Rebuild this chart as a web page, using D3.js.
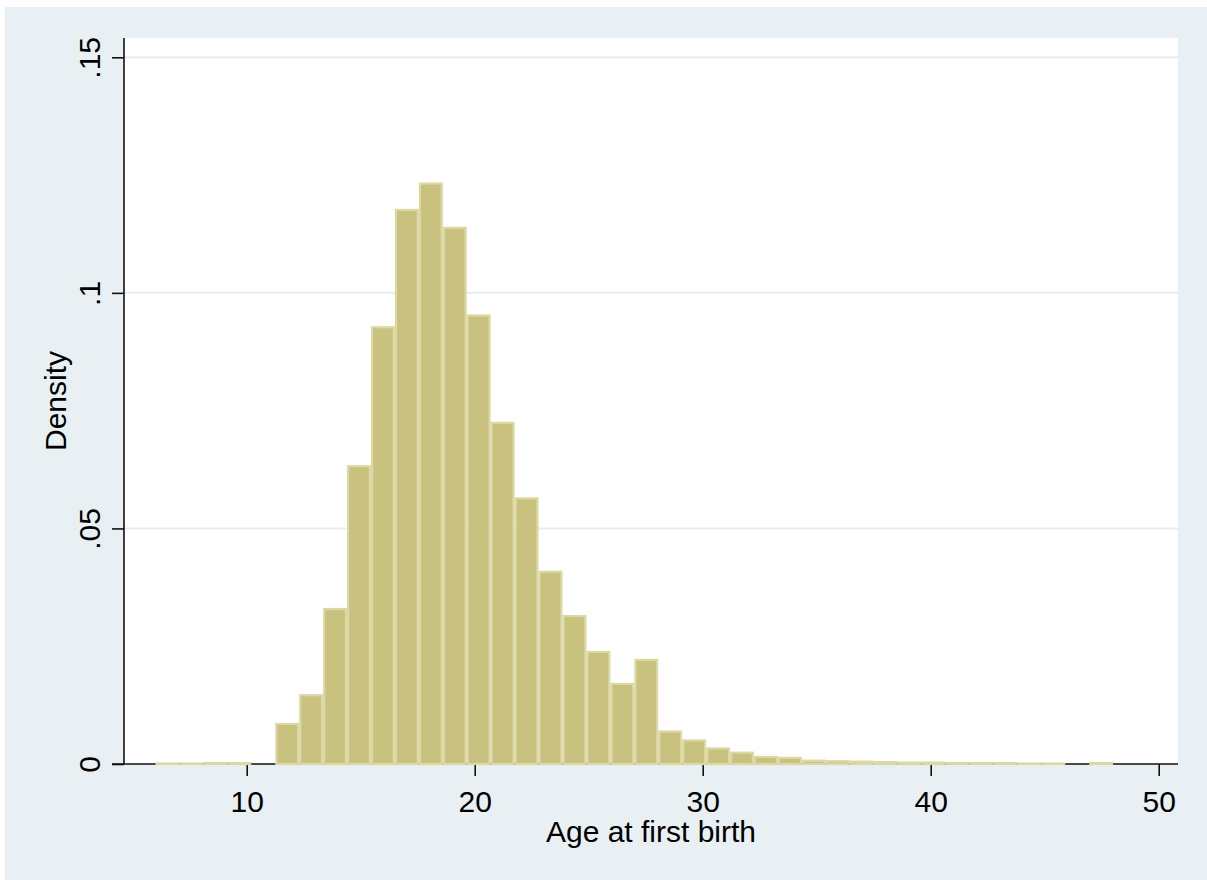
<!DOCTYPE html>
<html>
<head>
<meta charset="utf-8">
<script src="https://cdn.jsdelivr.net/npm/d3@7/dist/d3.min.js"></script>
<style>
  html, body { margin: 0; padding: 0; background: #ffffff; }
  svg { display: block; }
  text { font-family: "Liberation Sans", Arial, sans-serif; fill: #000; }
</style>
</head>
<body>
<svg id="chart" width="1207" height="880"></svg>
<script>
// ---- data ----
const binLower = [6.00, 7.05, 8.10, 9.15, 10.20, 11.25, 12.30, 13.35, 14.40, 15.45,
                  16.50, 17.55, 18.60, 19.65, 20.70, 21.75, 22.80, 23.85, 24.90, 25.95,
                  27.00, 28.05, 29.10, 30.15, 31.20, 32.25, 33.30, 34.35, 35.40, 36.45,
                  37.50, 38.55, 39.60, 40.65, 41.70, 42.75, 43.80, 44.85, 45.90, 46.95];
const binWidth = 1.05;
const density = [0.0001, 0.0001, 0.0002, 0.0002, 0, 0.0085, 0.0146, 0.0329, 0.0632, 0.0927,
                 0.1176, 0.1232, 0.1138, 0.0952, 0.0724, 0.0564, 0.0408, 0.0314, 0.0238, 0.0170,
                 0.0221, 0.0069, 0.0050, 0.0033, 0.0024, 0.0015, 0.0013, 0.0007, 0.0006, 0.0005,
                 0.0004, 0.0003, 0.0003, 0.0002, 0.0002, 0.0002, 0.0001, 0.0001, 0, 0.0002];
const xTicks = [10, 20, 30, 40, 50];
const xTickLabels = ["10", "20", "30", "40", "50"];
const yTicks = [0, 0.05, 0.1, 0.15];
const yTickLabels = ["0", ".05", ".1", ".15"];
const xTitle = "Age at first birth";
const yTitle = "Density";

// ---- layout ----
const W = 1207, H = 880;
const plot = { left: 124, right: 1178, top: 38, bottom: 764 };
const svg = d3.select("#chart");

// graph region
svg.append("rect").attr("x", 0).attr("y", 0).attr("width", W).attr("height", H).attr("fill", "#ffffff");
svg.append("rect").attr("x", 5).attr("y", 7).attr("width", W - 5).attr("height", H - 7).attr("fill", "#e8f0f3");
// plot region
svg.append("rect").attr("x", plot.left).attr("y", plot.top)
  .attr("width", plot.right - plot.left).attr("height", plot.bottom - plot.top).attr("fill", "#ffffff");

const x = d3.scaleLinear().domain([4.618, 50.846]).range([plot.left, plot.right]);
const y = d3.scaleLinear().domain([0, 0.15]).range([plot.bottom, 57.3]);

// grid lines
svg.append("g").selectAll("line").data(yTicks.filter(d => d > 0)).join("line")
  .attr("x1", plot.left).attr("x2", plot.right)
  .attr("y1", d => y(d)).attr("y2", d => y(d))
  .attr("stroke", "#e4edf1").attr("stroke-width", 2);

// axes
const xAxis = d3.axisBottom(x).tickValues(xTicks).tickSize(12).tickPadding(14)
  .tickFormat((d, i) => xTickLabels[i]);
const gx = svg.append("g").attr("transform", `translate(0,${plot.bottom})`).call(xAxis);
gx.select(".domain").remove();
gx.append("line").attr("x1", plot.left - 12).attr("x2", plot.right).attr("y1", 0).attr("y2", 0)
  .attr("stroke", "#111").attr("stroke-width", 1.6);
gx.selectAll(".tick line").attr("stroke", "#111").attr("stroke-width", 1.6);
gx.selectAll(".tick text").attr("font-size", 30).attr("fill", "#000")
  .attr("font-family", "'Liberation Sans', Arial, sans-serif")
  .attr("dy", null).attr("y", 48);

const yAxis = d3.axisLeft(y).tickValues(yTicks).tickSize(12)
  .tickFormat((d, i) => yTickLabels[i]);
const gy = svg.append("g").attr("transform", `translate(${plot.left},0)`).call(yAxis);
gy.select(".domain").remove();
gy.append("line").attr("x1", 0).attr("x2", 0).attr("y1", plot.top).attr("y2", plot.bottom)
  .attr("stroke", "#111").attr("stroke-width", 1.6);
gy.selectAll(".tick line").attr("stroke", "#111").attr("stroke-width", 1.6);
gy.selectAll(".tick text").attr("font-size", 30).attr("fill", "#000")
  .attr("font-family", "'Liberation Sans', Arial, sans-serif")
  .attr("x", null).attr("dy", null)
  .attr("text-anchor", "middle")
  .attr("transform", "translate(-24,0) rotate(-90)");

// bars (drawn over the axis line, as in the reference)
const bins = binLower.map((lo, i) => ({ lo, hi: lo + binWidth, v: density[i] })).filter(d => d.v > 0);
svg.append("g").selectAll("rect").data(bins).join("rect")
  .attr("x", d => x(d.lo) + 1.1)
  .attr("width", d => Math.max(0, x(d.hi) - x(d.lo) - 2.2))
  .attr("y", d => y(d.v))
  .attr("height", d => Math.max(0, y(0) - y(d.v)))
  .attr("fill", "#c9c27e")
  .attr("stroke", "#dcd8a6")
  .attr("stroke-width", 2.2);

// titles
svg.append("text").attr("x", (plot.left + plot.right) / 2).attr("y", 842)
  .attr("text-anchor", "middle").attr("font-size", 30).text(xTitle);
svg.append("text").attr("transform", `translate(66,401) rotate(-90)`)
  .attr("text-anchor", "middle").attr("font-size", 30).text(yTitle);
</script>
</body>
</html>
